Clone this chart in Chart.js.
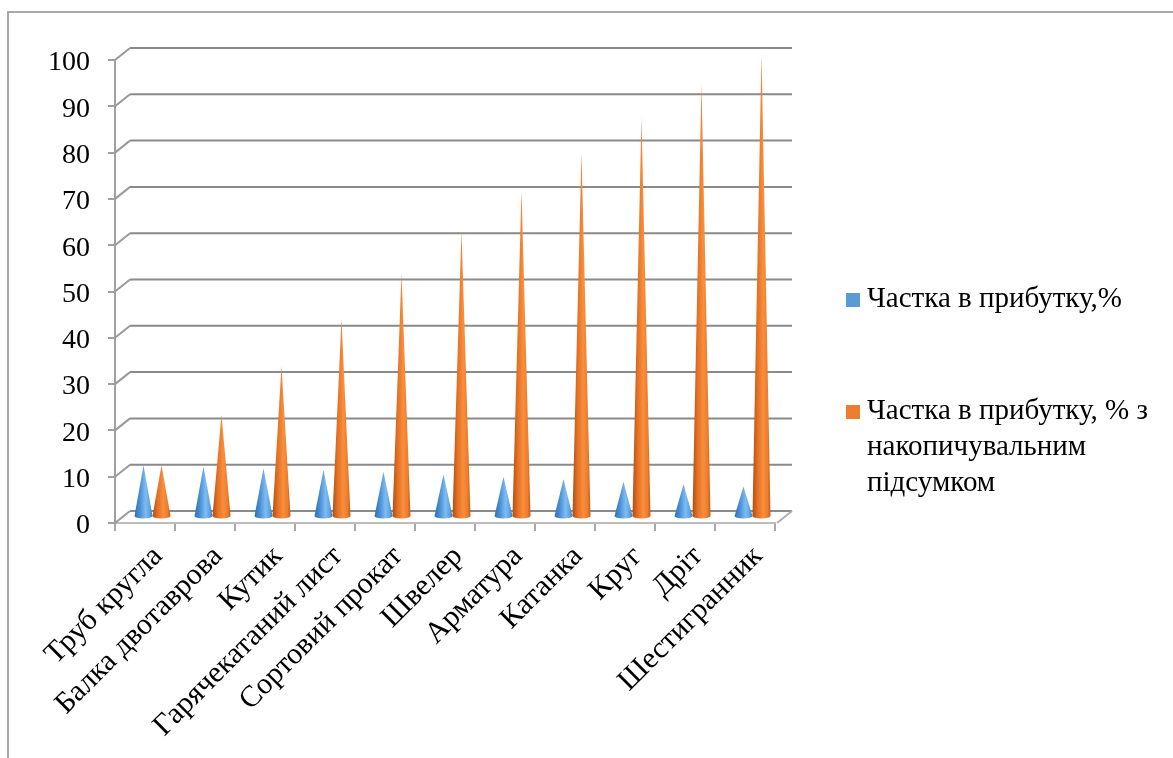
<!DOCTYPE html>
<html>
<head>
<meta charset="utf-8">
<script src="https://cdn.jsdelivr.net/npm/chart.js@4.4.1/dist/chart.umd.min.js"></script>
<style>
  html, body { margin: 0; padding: 0; background: #ffffff; }
  #wrap { width: 1173px; height: 758px; position: relative; }
  .probe { position: absolute; left: -9999px; top: 0; font-family: "Liberation Serif"; font-size: 27px; }
</style>
</head>
<body>
<div id="wrap"><canvas id="chart" width="1173" height="758"></canvas></div>
<span class="probe">Частка 100</span>
<script>
// Product groups
const categories = [
  'Труб кругла', 'Балка двотаврова', 'Кутик', 'Гарячекатаний лист',
  'Сортовий прокат', 'Швелер', 'Арматура', 'Катанка', 'Круг', 'Дріт', 'Шестигранник'
];
// Share of profit, %
const shareValues = [11.2, 10.9, 10.5, 10.2, 9.8, 9.2, 8.7, 8.2, 7.6, 7.1, 6.6];
// Share of profit, % running total
const cumulativeValues = [11.2, 22.1, 32.6, 42.8, 52.6, 61.8, 70.5, 78.7, 86.3, 93.4, 100.0];
const seriesNames = ['Частка в прибутку,%', 'Частка в прибутку, % з накопичувальним підсумком'];
const seriesColors = ['#5b9bd5', '#ed7d31'];
const yAxisMin = 0;
const yAxisMax = 100;
const yAxisStep = 10;

const FONT = '"Liberation Serif", "Times New Roman", serif';
// offset of the back wall relative to the front plane
const DEPTH = { dx: 15, dy: -12 };

const coneShades = [
  [[0, '#2f6fb5'], [0.3, '#4a8fd6'], [0.62, '#7dbdf2'], [0.84, '#5ea3e3'], [1, '#3a7cc4']],
  [[0, '#b24c12'], [0.28, '#e37024'], [0.6, '#f98f3d'], [0.84, '#ec7c2e'], [1, '#c45a18']]
];

// Outer frame, back wall gridlines, left diagonals and floor
const framePlugin = {
  id: 'frame3d',
  beforeDraw(chart) {
    const ctx = chart.ctx;
    ctx.save();
    ctx.strokeStyle = '#a8a8a8';
    ctx.lineWidth = 2;
    ctx.beginPath();
    ctx.moveTo(8, 758); ctx.lineTo(8, 12); ctx.lineTo(1173, 12);
    ctx.stroke();
    ctx.restore();
  },
  beforeDatasetsDraw(chart) {
    const ctx = chart.ctx;
    const ys = chart.scales.y;
    const area = chart.chartArea;
    ctx.save();
    ctx.lineCap = 'butt';
    for (let v = yAxisMin; v <= yAxisMax; v += yAxisStep) {
      const py = ys.getPixelForValue(v);
      // diagonal from axis to back wall
      ctx.strokeStyle = '#9a9a9a';
      ctx.lineWidth = 2;
      ctx.beginPath();
      ctx.moveTo(area.left, py);
      ctx.lineTo(area.left + DEPTH.dx, py + DEPTH.dy);
      ctx.stroke();
      // back wall gridline
      ctx.strokeStyle = '#8a8a8a';
      ctx.beginPath();
      ctx.moveTo(area.left + DEPTH.dx, py + DEPTH.dy);
      ctx.lineTo(area.right + 2 + DEPTH.dx, py + DEPTH.dy);
      ctx.stroke();
    }
    // floor right edge
    const by = ys.getPixelForValue(yAxisMin);
    ctx.strokeStyle = '#b0b0b0';
    ctx.lineWidth = 2;
    ctx.beginPath();
    ctx.moveTo(area.right + 2, by);
    ctx.lineTo(area.right + 2 + DEPTH.dx, by + DEPTH.dy);
    ctx.stroke();
    ctx.restore();
  }
};

// Cones drawn from the bar elements, placed at half depth
const conePlugin = {
  id: 'cones',
  afterDatasetsDraw(chart) {
    const ctx = chart.ctx;
    const n = chart.data.labels.length;
    const ox = DEPTH.dx / 2, oy = DEPTH.dy / 2;
    ctx.save();
    for (let j = 0; j < n; j++) {
      chart.data.datasets.forEach((ds, i) => {
        const el = chart.getDatasetMeta(i).data[j];
        if (!el) return;
        const p = el.getProps(['x', 'y', 'base', 'width'], true);
        const cx = p.x + ox;
        const hw = p.width / 2;
        const baseY = p.base + oy;
        const tipY = p.y + oy;
        const ry = 2.6;
        const g = ctx.createLinearGradient(cx - hw, 0, cx + hw, 0);
        coneShades[i].forEach(s => g.addColorStop(s[0], s[1]));
        ctx.fillStyle = g;
        ctx.beginPath();
        ctx.moveTo(cx - hw, baseY);
        ctx.lineTo(cx, tipY);
        ctx.lineTo(cx + hw, baseY);
        ctx.ellipse(cx, baseY, hw, ry, 0, 0, Math.PI, false);
        ctx.closePath();
        ctx.fill();
      });
    }
    ctx.restore();
  }
};

function wrapText(ctx, text, maxWidth) {
  const words = text.split(' ');
  const lines = [];
  let line = '';
  words.forEach(w => {
    const test = line ? line + ' ' + w : w;
    if (line && ctx.measureText(test).width > maxWidth) {
      lines.push(line);
      line = w;
    } else {
      line = test;
    }
  });
  if (line) lines.push(line);
  return lines;
}

// Legend on the right
const legendPlugin = {
  id: 'sideLegend',
  afterDraw(chart) {
    const ctx = chart.ctx;
    const entries = [
      { top: 293, baseline: 307 },
      { top: 405, baseline: 419 }
    ];
    ctx.save();
    ctx.font = '29px ' + FONT;
    ctx.textBaseline = 'alphabetic';
    ctx.textAlign = 'left';
    chart.data.datasets.forEach((ds, i) => {
      const e = entries[i];
      ctx.fillStyle = seriesColors[i];
      ctx.fillRect(846, e.top, 14, 14);
      ctx.fillStyle = '#000';
      const lines = wrapText(ctx, ds.label, 300);
      lines.forEach((ln, k) => ctx.fillText(ln, 867, e.baseline + k * 36));
    });
    ctx.restore();
  }
};

function drawChart() {
  const ctx = document.getElementById('chart').getContext('2d');
  new Chart(ctx, {
    type: 'bar',
    data: {
      labels: categories,
      datasets: [
        { label: seriesNames[0], data: shareValues, backgroundColor: 'rgba(0,0,0,0)', borderWidth: 0 },
        { label: seriesNames[1], data: cumulativeValues, backgroundColor: 'rgba(0,0,0,0)', borderWidth: 0 }
      ]
    },
    options: {
      responsive: false,
      animation: false,
      devicePixelRatio: 1,
      layout: { padding: { left: 0, right: 398, top: 60, bottom: 0 } },
      datasets: { bar: { barPercentage: 1, categoryPercentage: 0.6 } },
      plugins: { legend: { display: false }, tooltip: { enabled: false } },
      scales: {
        x: {
          grid: { offset: true, drawOnChartArea: false, drawTicks: true, tickLength: 8, color: '#a8a8a8', lineWidth: 2 },
          border: { display: true, color: '#bdbdbd', width: 2 },
          ticks: {
            minRotation: 45, maxRotation: 45, autoSkip: false, color: '#000',
            padding: 8, labelOffset: 13, font: { family: FONT, size: 30 }
          },
          afterFit(s) { s.height = 235; s.paddingLeft = 0; s.paddingRight = 0; }
        },
        y: {
          min: yAxisMin, max: yAxisMax,
          grid: { drawOnChartArea: false, drawTicks: true, tickLength: 7, color: '#a0a0a0', lineWidth: 2 },
          border: { display: true, color: '#a0a0a0', width: 2 },
          ticks: { stepSize: yAxisStep, color: '#000', padding: 18, labelOffset: 3, font: { family: FONT, size: 28 } },
          afterFit(s) { s.width = 115; }
        }
      }
    },
    plugins: [framePlugin, conePlugin, legendPlugin]
  });
}

if (document.fonts && document.fonts.load) {
  document.fonts.load('27px "Liberation Serif"', 'Частка 100').then(drawChart, drawChart);
} else {
  drawChart();
}
</script>
</body>
</html>
